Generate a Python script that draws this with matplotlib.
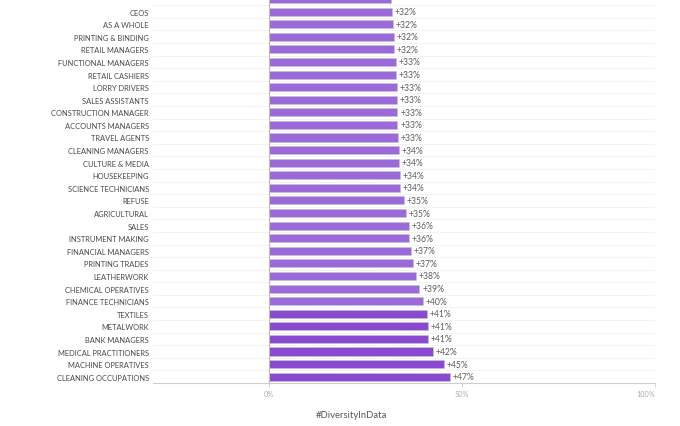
import numpy as np
import matplotlib
matplotlib.use("Agg")
import matplotlib.pyplot as plt

# Gender pay gap style chart - occupations sorted by value
occupations = ["", "CEOS", "AS A WHOLE", "PRINTING & BINDING", "RETAIL MANAGERS",
               "FUNCTIONAL MANAGERS", "RETAIL CASHIERS", "LORRY DRIVERS",
               "SALES ASSISTANTS", "CONSTRUCTION MANAGER", "ACCOUNTS MANAGERS",
               "TRAVEL AGENTS", "CLEANING MANAGERS", "CULTURE & MEDIA",
               "HOUSEKEEPING", "SCIENCE TECHNICIANS", "REFUSE", "AGRICULTURAL",
               "SALES", "INSTRUMENT MAKING", "FINANCIAL MANAGERS",
               "PRINTING TRADES", "LEATHERWORK", "CHEMICAL OPERATIVES",
               "FINANCE TECHNICIANS", "TEXTILES", "METALWORK", "BANK MANAGERS",
               "MEDICAL PRACTITIONERS", "MACHINE OPERATIVES",
               "CLEANING OCCUPATIONS"]
values = [31.6, 31.8, 32.1, 32.3, 32.4, 32.8, 32.8, 33.1, 33.2, 33.3, 33.3,
          33.4, 33.6, 33.7, 33.9, 33.9, 34.9, 35.4, 36.2, 36.2, 36.9, 37.4,
          38.0, 39.0, 39.8, 40.9, 41.1, 41.3, 42.4, 45.4, 46.8]
# first row is cut off by the top edge in the original, its label is not visible
value_labels = ["", "+32%", "+32%", "+32%", "+32%", "+33%", "+33%", "+33%",
                "+33%", "+33%", "+33%", "+33%", "+34%", "+34%", "+34%", "+34%",
                "+35%", "+35%", "+36%", "+36%", "+37%", "+37%", "+38%", "+39%",
                "+40%", "+41%", "+41%", "+41%", "+42%", "+45%", "+47%"]
x_ticks = [0, 50, 100]
x_tick_labels = ["0%", "50%", "100%"]

light = "#9c69db"
dark = "#8a4ad0"
colors = [dark if v > 40.5 else light for v in values]

fig = plt.figure(figsize=(6.8, 4.27), dpi=100)
ax = fig.add_axes([153 / 680, 1 - 384 / 427, (655 - 153) / 680, 384 / 427])

y = np.arange(len(occupations))
ax.barh(y, values, height=0.64, color=colors, edgecolor="#c4c4c4",
        linewidth=0.4, zorder=3)

for yi, v, lab in zip(y, values, value_labels):
    ax.text(v + 0.7, yi, lab, va="center", ha="left", fontsize=6.2,
            color="#5e5e5e", family="Lato")

# row separators
for yi in np.arange(len(occupations) - 1) + 0.5:
    ax.axhline(yi, color="#e3e3e3", linewidth=0.6, linestyle=(0, (1, 1)),
               zorder=1)

ax.axvline(0, color="#bdbdbd", linewidth=0.8, zorder=4)

ax.set_xlim(-30, 100)
ax.set_ylim(len(occupations) - 0.5, 0.4)
ax.set_yticks(y)
ax.set_yticklabels(occupations, fontsize=5.4, color="#4a4a4a", family="Lato")
ax.tick_params(axis="y", length=0, pad=3)
ax.set_xticks(x_ticks)
ax.set_xticklabels(x_tick_labels, fontsize=5.2, color="#aaaaaa", family="Lato")
ax.get_xticklabels()[-1].set_ha("right")
ax.tick_params(axis="x", length=3, color="#cccccc", width=0.6, pad=2)

for s in ["top", "right", "left"]:
    ax.spines[s].set_visible(False)
ax.spines["bottom"].set_color("#cfcfcf")
ax.spines["bottom"].set_linewidth(0.8)

fig.text(351 / 680, 1 - 416 / 427, "#DiversityInData", ha="center",
         va="center", fontsize=6.8, color="#555555", family="Lato")

fig.savefig("out.png", dpi=100)
